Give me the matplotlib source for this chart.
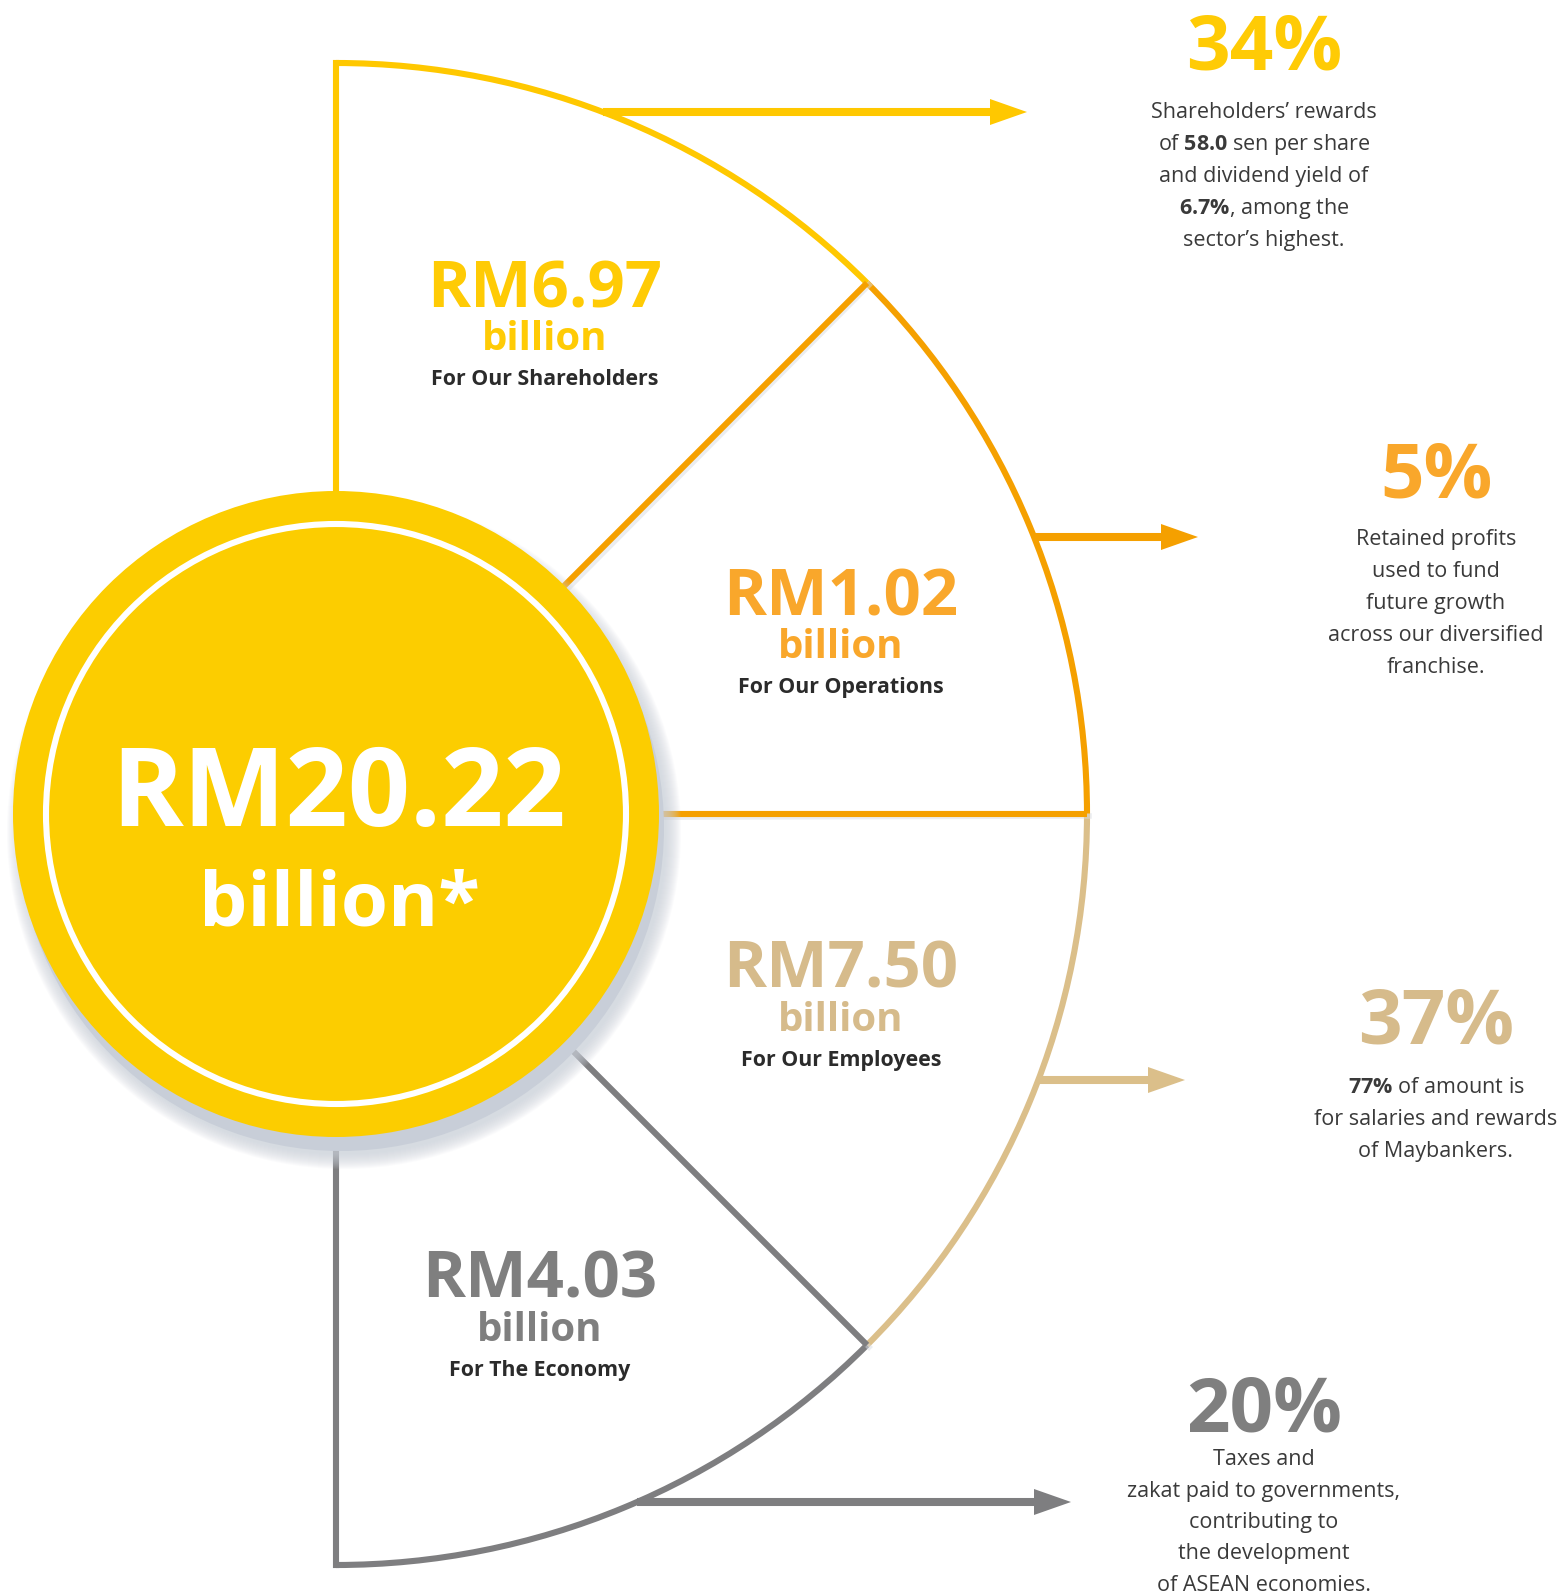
import numpy as np
import matplotlib.pyplot as plt
from matplotlib.patches import Circle, Arc, Polygon

plt.rcParams['font.family'] = ['Open Sans', 'DejaVu Sans']
plt.rcParams['mathtext.fontset'] = 'custom'
plt.rcParams['mathtext.rm'] = 'Open Sans'
plt.rcParams['mathtext.bf'] = 'Open Sans:bold'

# data
total = 20.22
segments = ['For Our Shareholders', 'For Our Operations', 'For Our Employees', 'For The Economy']
amounts = [6.97, 1.02, 7.50, 4.03]
shares = [34, 5, 37, 20]
notes = [
    ['Shareholders\u2019 rewards', 'of 58.0 sen per share', 'and dividend yield of',
     '6.7%, among the', 'sector\u2019s highest.'],
    ['Retained profits', 'used to fund', 'future growth', 'across our diversified', 'franchise.'],
    ['77% of amount is', 'for salaries and rewards', 'of Maybankers.'],
    ['Taxes and', 'zakat paid to governments,', 'contributing to', 'the development',
     'of ASEAN economies.'],
]
bold_parts = [['58.0', '6.7%'], [], ['77%'], []]

# styles / layout (pixels)
line_colors = ['#FFC800', '#F5A000', '#DBBF8A', '#7E7E80']
text_colors = ['#FFCB05', '#F9A72B', '#D6BB8B', '#7F7F7F']
W, H = 1564, 1595
cx, cy = 336, 814
R = 751
r_disk = 323
label_xy = [(545, 307), (841, 615), (841, 988), (540, 1298)]
arrow_y = [112, 537, 1080, 1502]
arrow_tip = [1027, 1198, 1185, 1071]
pct_xy = [(1264, 70), (1436, 498), (1436, 1044), (1264, 1432)]
note_base = [118, 545, 1093, 1465]
note_step = [32, 32, 32, 31.5]


def mark_bold(line, parts):
    for p in parts:
        if p in line:
            line = line.replace(p, r'$\mathbf{' + p.replace('%', r'\%') + '}$')
    return line


def main():
    fig = plt.figure(figsize=(W / 100, H / 100), dpi=100)
    ax = fig.add_axes([0, 0, 1, 1])
    ax.set_xlim(0, W)
    ax.set_ylim(H, 0)
    ax.axis('off')

    n = len(segments)
    step = 180 / n
    lw = 4.4

    # outer arcs (y axis is inverted, so angles flip sign)
    for i in range(n):
        a1 = 90 - i * step
        a2 = a1 - step
        ax.add_patch(Arc((cx, cy), 2 * R, 2 * R, theta1=-a1, theta2=-a2,
                         color=line_colors[i], lw=lw, zorder=2))

    # vertical edges
    ax.plot([cx, cx], [cy - R, cy], color=line_colors[0], lw=lw, zorder=1,
            solid_capstyle='projecting')
    ax.plot([cx, cx], [cy, cy + R], color=line_colors[-1], lw=lw, zorder=1,
            solid_capstyle='projecting')

    # dividers
    div_colors = [line_colors[1], line_colors[1], line_colors[3]]
    for k in range(1, n):
        a = np.radians(90 - k * step)
        ax.plot([cx, cx + R * np.cos(a)], [cy, cy - R * np.sin(a)],
                color=div_colors[k - 1], lw=lw, zorder=3, solid_capstyle='butt')
        # soft shadow under divider
        ax.plot([cx + 4, cx + R * np.cos(a) + 2], [cy + 4, cy - R * np.sin(a) + 2],
                color='#D9DCE2', lw=4, alpha=0.5, zorder=2.5)

    # arrows
    head_len, head_h = 37, 26
    for i in range(n):
        y = arrow_y[i]
        x0 = cx + np.sqrt(R ** 2 - (cy - y) ** 2)
        tip = arrow_tip[i]
        ax.plot([x0, tip - head_len + 1], [y, y], color=line_colors[i], lw=5.8,
                zorder=2, solid_capstyle='butt')
        ax.add_patch(Polygon([[tip - head_len, y - head_h / 2], [tip, y],
                              [tip - head_len, y + head_h / 2]],
                             closed=True, color=line_colors[i], lw=0, zorder=2))

    # shadow of center disk
    for k in range(16):
        ax.add_patch(Circle((cx + 8, cy + 18), r_disk + 14 - k, color='#CDD3DC',
                            alpha=0.08, lw=0, zorder=4))
    ax.add_patch(Circle((cx + 5, cy + 14), r_disk, color='#C8CED8', lw=0, zorder=4))

    # center disk
    ax.add_patch(Circle((cx, cy), r_disk, color='#FCCD00', lw=0, zorder=5))
    ax.add_patch(Circle((cx, cy), 290, fill=False, ec='white', lw=4.4, zorder=6))
    ax.text(cx + 3, 826, f'RM{total:.2f}', color='white', fontsize=78.5, weight='bold',
            ha='center', va='baseline', zorder=7)
    ax.text(cx + 3, 925, 'billion*', color='white', fontsize=55, weight='bold',
            ha='center', va='baseline', zorder=7)

    # segment labels
    for i in range(n):
        x, y = label_xy[i]
        ax.text(x, y, f'RM{amounts[i]:.2f}', color=text_colors[i], fontsize=47,
                weight='bold', ha='center', va='baseline', zorder=7)
        ax.text(x, y + 43, 'billion', color=text_colors[i], fontsize=29,
                weight='bold', ha='center', va='baseline', zorder=7)
        ax.text(x, y + 78, segments[i], color='#2B2B2B', fontsize=15.4,
                weight='bold', ha='center', va='baseline', zorder=7)

    # percentages and notes
    for i in range(n):
        x, y = pct_xy[i]
        ax.text(x, y, f'{shares[i]}%', color=text_colors[i], fontsize=55,
                weight='bold', ha='center', va='baseline')
        for j, line in enumerate(notes[i]):
            ax.text(x, note_base[i] + j * note_step[i], mark_bold(line, bold_parts[i]),
                    color='#3A3A3A', fontsize=15.5, ha='center', va='baseline')

    fig.savefig('out.png', dpi=100, facecolor='white')


if __name__ == '__main__':
    main()
